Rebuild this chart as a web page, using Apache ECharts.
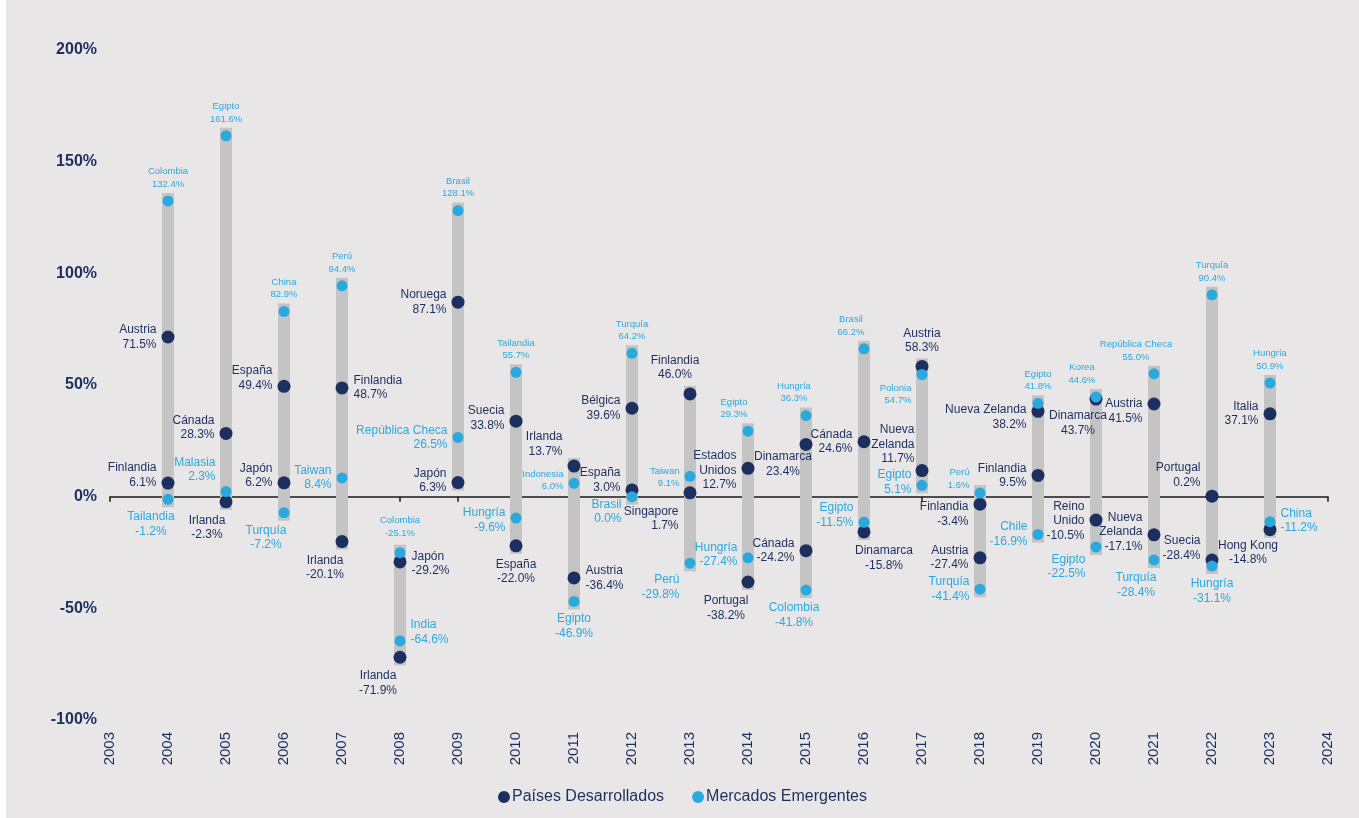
<!DOCTYPE html>
<html>
<head>
<meta charset="utf-8">
<title>Rentabilidad por país</title>
<script src="https://cdn.jsdelivr.net/npm/echarts@6/dist/echarts.min.js"></script>
<style>
  html, body { margin: 0; padding: 0; background: #ffffff; }
  #chart { position: absolute; left: 6px; top: 0; width: 1353px; height: 818px; background: #e8e6e6; }
</style>
</head>
<body>
<div id="chart"></div>
<script>
// años
const years = [2004, 2005, 2006, 2007, 2008, 2009, 2010, 2011, 2012, 2013,
  2014, 2015, 2016, 2017, 2018, 2019, 2020, 2021, 2022, 2023];

// Países desarrollados: mejor y peor del año
const devHighName = ["Austria", "Cánada", "España", "Finlandia", "Japón", "Noruega", "Suecia", "Irlanda", "Bélgica", "Finlandia",
  "Estados\nUnidos", "Dinamarca", "Cánada", "Austria", "Finlandia", "Nueva Zelanda", "Dinamarca", "Austria", "Portugal", "Italia"];
const devHigh = [71.5, 28.3, 49.4, 48.7, -29.2, 87.1, 33.8, 13.7, 39.6, 46.0,
  12.7, 23.4, 24.6, 58.3, -3.4, 38.2, 43.7, 41.5, 0.2, 37.1];
const devLowName = ["Finlandia", "Irlanda", "Japón", "Irlanda", "Irlanda", "Japón", "España", "Austria", "España", "Singapore",
  "Portugal", "Cánada", "Dinamarca", "Nueva\nZelanda", "Austria", "Finlandia", "Reino\nUnido", "Nueva\nZelanda", "Suecia", "Hong Kong"];
const devLow = [6.1, -2.3, 6.2, -20.1, -71.9, 6.3, -22.0, -36.4, 3.0, 1.7,
  -38.2, -24.2, -15.8, 11.7, -27.4, 9.5, -10.5, -17.1, -28.4, -14.8];

// Mercados emergentes: mejor y peor del año
const emHighName = ["Colombia", "Egipto", "China", "Perú", "Colombia", "Brasil", "Tailandia", "Indonesia", "Turquía", "Taiwan",
  "Egipto", "Hungría", "Brasil", "Polonia", "Perú", "Egipto", "Korea", "República Checa", "Turquía", "Hungría"];
const emHigh = [132.4, 161.6, 82.9, 94.4, -25.1, 128.1, 55.7, 6.0, 64.2, 9.1,
  29.3, 36.3, 66.2, 54.7, 1.6, 41.8, 44.6, 55.0, 90.4, 50.9];
const emLowName = ["Tailandia", "Malasia", "Turquía", "Taiwan", "India", "República Checa", "Hungría", "Egipto", "Brasil", "Perú",
  "Hungría", "Colombia", "Egipto", "Egipto", "Turquía", "Chile", "Egipto", "Turquía", "Hungría", "China"];
const emLow = [-1.2, 2.3, -7.2, 8.4, -64.6, 26.5, -9.6, -46.9, 0.0, -29.8,
  -27.4, -41.8, -11.5, 5.1, -41.4, -16.9, -22.5, -28.4, -31.1, -11.2];

const yTicks = [-100, -50, 0, 50, 100, 150, 200];

// colocación de etiquetas: [posición, dx, dy, pequeña]
const devHighPos = [["left",0,0],["left",0,-6],["left",0,-8],["right",0,0],["right",0,2],["left",0,0],["left",0,-3],["left",0,-22],["left",0,0],["top",-15,0],
  ["left",0,2],["bottom",-23,-6],["left",0,0],["top",0,0],["left",0,10],["left",0,6],["bottom",-18,-2],["left",0,7],["left",0,-21],["left",0,0]];
const devLowPos = [["left",0,-8],["bottom",-19,0],["left",0,-7],["bottom",-17,0],["bottom",-22,0],["left",0,-2],["bottom",0,0],["right",0,0],["left",0,-10],["left",0,26],
  ["bottom",-22,0],["left",0,0],["bottom",20,0],["left",4,-26],["left",0,0],["left",0,0],["left",0,1],["left",0,-3],["left",0,-12],["bottom",-22,-3]];
const emHighPos = [["top",0,0,1],["top",0,0,1],["top",0,0,1],["top",0,0,1],["top",0,-3,1],["top",0,0,1],["top",0,0,1],["left",0,-3,1],["top",0,0,1],["left",0,1,1],
  ["top",-14,0,1],["top",-12,0,1],["top",-13,0,1],["left",0,20,1],["left",0,-14,1],["top",0,0,1],["top",-14,0,1],["top",-18,0,1],["top",0,0,1],["top",0,0,1]];
const emLowPos = [["bottom",-17,0],["left",0,-22],["bottom",-18,0],["left",0,0],["right",0,-9],["left",0,0],["left",0,2],["bottom",0,0],["left",0,15],["left",0,24],
  ["left",0,-3],["bottom",-12,0],["left",0,-7],["left",0,-3],["left",0,0],["left",0,0],["left",0,20],["bottom",-18,0],["bottom",0,0],["right",0,-1]];

const NAVY = "#1c2f5f";
const CYAN = "#2aa9df";
const FONT = "'Liberation Sans', Arial, sans-serif";

function fmt(v) {
  return v.toFixed(1) + "%";
}

function buildPoints(names, values, pos, color) {
  return years.map((y, i) => {
    const p = pos[i];
    const small = p[3] === 1;
    return {
      name: names[i],
      value: [y, values[i]],
      label: {
        show: true,
        position: p[0],
        distance: 5,
        offset: [p[1], p[2]],
        formatter: names[i] + "\n" + fmt(values[i]),
        color: color,
        fontFamily: FONT,
        fontSize: small ? 9.5 : 12,
        lineHeight: small ? 12.5 : 14.5
      }
    };
  });
}

const rangeData = years.map((y, i) => {
  const vals = [devHigh[i], devLow[i], emHigh[i], emLow[i]];
  return [y, Math.min(...vals), Math.max(...vals)];
});

const chart = echarts.init(document.getElementById("chart"));

const option = {
  backgroundColor: "#e8e6e6",
  animation: false,
  textStyle: { fontFamily: FONT },
  grid: { left: 104, right: 31, top: 50, bottom: 98 },
  legend: {
    bottom: 8,
    left: "center",
    icon: "circle",
    itemWidth: 12,
    itemHeight: 12,
    itemGap: 28,
    data: ["Países Desarrollados", "Mercados Emergentes"],
    textStyle: { color: NAVY, fontSize: 16, fontFamily: FONT, padding: [0, 0, 0, -3] }
  },
  xAxis: [
    {
      type: "value",
      min: 2003,
      max: 2024,
      interval: 1,
      axisLine: { show: true, onZero: true, lineStyle: { color: "#1a1a1a", width: 1.5 } },
      axisTick: { show: true, length: 5, lineStyle: { color: "#1a1a1a", width: 1.5 } },
      axisLabel: { show: false },
      splitLine: { show: false }
    },
    {
      type: "value",
      min: 2003,
      max: 2024,
      interval: 1,
      position: "bottom",
      axisLine: { show: false, onZero: false },
      axisTick: { show: false },
      splitLine: { show: false },
      axisLabel: {
        rotate: 90,
        margin: 12,
        color: NAVY,
        fontSize: 15,
        fontFamily: FONT,
        formatter: (v) => String(v)
      }
    }
  ],
  yAxis: {
    type: "value",
    min: yTicks[0],
    max: yTicks[yTicks.length - 1],
    interval: 50,
    axisLine: { show: false },
    axisTick: { show: false },
    splitLine: { show: false },
    axisLabel: {
      margin: 13,
      color: NAVY,
      fontSize: 16,
      fontWeight: "bold",
      fontFamily: FONT,
      formatter: (v) => v + "%"
    }
  },
  series: [
    {
      type: "custom",
      name: "rango",
      xAxisIndex: 0,
      silent: true,
      data: rangeData,
      encode: { x: 0, y: [1, 2] },
      renderItem: function (params, api) {
        const x = api.value(0);
        const lo = api.coord([x, api.value(1)]);
        const hi = api.coord([x, api.value(2)]);
        return {
          type: "rect",
          shape: { x: lo[0] - 6, y: hi[1] - 8, width: 12, height: lo[1] - hi[1] + 16 },
          style: { fill: "#c4c4c4" }
        };
      },
      z: 1
    },
    {
      type: "scatter",
      name: "Países Desarrollados",
      xAxisIndex: 0,
      symbol: "circle",
      symbolSize: 13,
      itemStyle: { color: NAVY, opacity: 1 },
      data: buildPoints(devHighName, devHigh, devHighPos, NAVY)
        .concat(buildPoints(devLowName, devLow, devLowPos, NAVY)),
      z: 3
    },
    {
      type: "scatter",
      name: "Mercados Emergentes",
      xAxisIndex: 0,
      symbol: "circle",
      symbolSize: 11,
      itemStyle: { color: CYAN, opacity: 1 },
      data: buildPoints(emHighName, emHigh, emHighPos, CYAN)
        .concat(buildPoints(emLowName, emLow, emLowPos, CYAN)),
      z: 4
    }
  ]
};

chart.setOption(option);
window.addEventListener("resize", () => {
  chart.resize();
});
</script>
</body>
</html>
